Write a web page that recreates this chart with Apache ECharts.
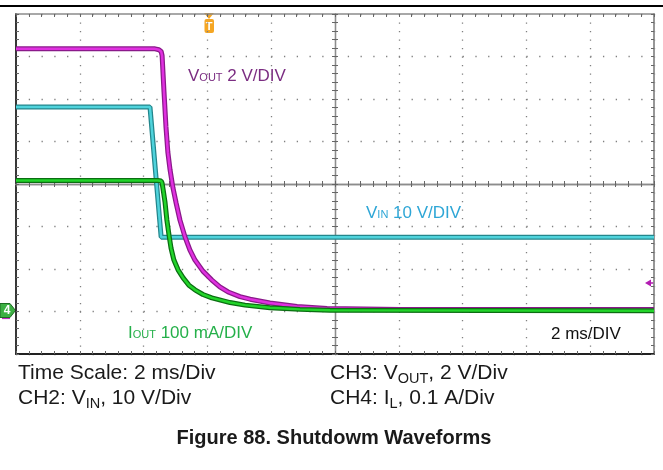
<!DOCTYPE html>
<html>
<head>
<meta charset="utf-8">
<script src="https://cdn.jsdelivr.net/npm/echarts@6/dist/echarts.min.js"></script>
<style>
  html, body { margin: 0; padding: 0; background: #fff; }
  #chart { width: 663px; height: 470px; }
</style>
</head>
<body>
<div id="chart"></div>
<script>
// scope screen: time in ms from screen centre (2 ms/div), level in divisions
var voutTime = [-10, -5.64, -5.52, -5.45, -5.42, -5.36, -5.30, -5.24, -5.17, -5.08, -4.98, -4.86, -4.70, -4.55, -4.39, -4.14, -3.86, -3.61, -3.35, -2.98, -2.66, -2.04, -1.19, -0.25, 2.04, 10];
var voutLevel = [3.18, 3.18, 3.16, 3.12, 3.02, 2.16, 1.36, 0.75, 0.33, -0.09, -0.45, -0.85, -1.25, -1.55, -1.79, -2.05, -2.26, -2.42, -2.54, -2.65, -2.71, -2.80, -2.88, -2.93, -2.95, -2.95];

var vinTime = [-10, -5.80, -5.77, -5.45, 10];
var vinLevel = [1.81, 1.81, 1.79, -1.25, -1.25];

var ioutTime = [-10, -5.55, -5.45, -5.42, -5.39, -5.33, -5.27, -5.20, -5.14, -5.05, -4.92, -4.76, -4.58, -4.39, -4.14, -3.86, -3.29, -2.82, -2.04, -1.10, -0.16, 10];
var ioutLevel = [0.08, 0.08, 0.07, 0.02, -0.12, -0.42, -0.85, -1.22, -1.51, -1.79, -2.02, -2.21, -2.38, -2.49, -2.60, -2.68, -2.79, -2.85, -2.91, -2.95, -2.97, -2.98];

var font = 'Liberation Sans, Arial, sans-serif';

function pairs(t, v) {
  return t.map(function (x, i) { return [x, v[i]]; });
}

// one axis of the graticule; the centre ones sit on zero, the others on the border
function axis(dim, position, onZero, inside, lineColor, lineWidth, split) {
  var a = {
    type: 'value',
    position: position,
    min: dim == 'x' ? -10 : -4,
    max: dim == 'x' ? 10 : 4,
    interval: dim == 'x' ? 2 : 1,
    axisLine: {
      show: true,
      onZero: onZero,
      lineStyle: { color: lineColor, width: lineWidth }
    },
    axisTick: { show: true, inside: inside, length: 3, lineStyle: { color: '#666' } },
    minorTick: { show: true, splitNumber: 5, length: 3, lineStyle: { color: '#666' } },
    axisLabel: { show: false },
    splitLine: { show: false }
  };
  if (onZero) a.axisLine.onZeroAxisIndex = 0;
  if (split) {
    a.splitLine = {
      show: true,
      lineStyle: {
        color: '#808080',
        width: 1.3,
        type: dim == 'x' ? [1.3, 7.2] : [1.3, 11.46]
      }
    };
  }
  return a;
}

function trace(name, data, edge, core) {
  return [{
    name: name,
    type: 'line',
    data: data,
    showSymbol: false,
    symbol: 'none',
    lineStyle: { color: edge, width: 5 }
  }, {
    name: name,
    type: 'line',
    data: data,
    showSymbol: false,
    symbol: 'none',
    lineStyle: { color: core, width: 2.5 }
  }];
}

function label(x, y, text, rich, color, size) {
  return {
    type: 'text',
    x: x,
    y: y,
    style: {
      text: text,
      fontFamily: font,
      fontSize: size,
      fill: color,
      verticalAlign: 'middle',
      rich: rich
    }
  };
}

// small caps for the scope labels, subscripts for the caption
function scopeRich(color) {
  return {
    v: { fontFamily: font, fontSize: 17, lineHeight: 20, fill: color },
    s: { fontFamily: font, fontSize: 11, height: 16, verticalAlign: 'bottom', fill: color }
  };
}
var capRich = {
  v: { fontFamily: font, fontSize: 21, lineHeight: 25, fill: '#1a1a1a' },
  s: { fontFamily: font, fontSize: 14.5, height: 14, verticalAlign: 'bottom', fill: '#1a1a1a' }
};

var chart = echarts.init(document.getElementById('chart'), null, { renderer: 'canvas' });

var series = [].concat(
  trace('VIN', pairs(vinTime, vinLevel), '#23868c', '#4fd3dc'),
  trace('VOUT', pairs(voutTime, voutLevel), '#8a1a8a', '#e030e0'),
  trace('IOUT', pairs(ioutTime, ioutLevel), '#0b6e12', '#22d42a')
);

var option = {
  animation: false,
  backgroundColor: '#fff',
  grid: { left: 16, top: 14, right: 9, bottom: 116, show: false },
  xAxis: [
    axis('x', 'bottom', true, true, '#8c8c8c', 1.3, true),
    axis('x', 'bottom', true, false, '#8c8c8c', 1.3, false),
    axis('x', 'top', false, true, '#8c8c8c', 1.5, false),
    axis('x', 'bottom', false, true, '#222', 1.8, false)
  ],
  yAxis: [
    axis('y', 'left', true, true, '#8c8c8c', 1.3, true),
    axis('y', 'left', true, false, '#8c8c8c', 1.3, false),
    axis('y', 'left', false, true, '#222', 1.8, false),
    axis('y', 'right', false, true, '#8c8c8c', 1.8, false)
  ],
  series: series,
  graphic: {
    elements: [
      // rule above the screenshot
      { type: 'line', shape: { x1: 0, y1: 6, x2: 663, y2: 6 }, style: { stroke: '#000', lineWidth: 2 } },
      // trigger marker
      { type: 'polygon', shape: { points: [[204, 13], [214, 13], [209, 19]] }, style: { fill: '#f5a623' } },
      { type: 'rect', shape: { x: 204.5, y: 19, width: 9.5, height: 14, r: 2 }, style: { fill: '#f5a623' } },
      { type: 'text', x: 209.2, y: 26.5, style: { text: 'T', fontFamily: font, fontSize: 11, fontWeight: 'bold', fill: '#fff', align: 'center', verticalAlign: 'middle' } },
      // channel 4 ground marker
      { type: 'line', shape: { x1: 2, y1: 318.5, x2: 10, y2: 318.5 }, style: { stroke: '#c030c0', lineWidth: 1.2 } },
      { type: 'polygon', shape: { points: [[0, 303.5], [10, 303.5], [15.5, 310.5], [10, 317.5], [0, 317.5]] }, style: { fill: '#3cb043', stroke: '#1d6b22', lineWidth: 1 } },
      { type: 'text', x: 7, y: 311, style: { text: '4', fontFamily: font, fontSize: 12, fontWeight: 'bold', fill: '#fff', align: 'center', verticalAlign: 'middle' } },
      // channel 3 level arrow on the right edge
      { type: 'polygon', shape: { points: [[645, 283], [651, 279.5], [651, 286.5]] }, style: { fill: '#b21cb2' } },
      { type: 'line', shape: { x1: 650, y1: 283, x2: 654, y2: 283 }, style: { stroke: '#b21cb2', lineWidth: 1.5 } },
      // in-screen labels
      label(188, 76, '{v|V}{s|OUT}{v| 2 V/DIV}', scopeRich('#7b2d82'), '#7b2d82', 17),
      label(366, 213, '{v|V}{s|IN}{v| 10 V/DIV}', scopeRich('#2ea6d6'), '#2ea6d6', 17),
      label(128, 333, '{v|I}{s|OUT}{v| 100 mA/DIV}', scopeRich('#25b04a'), '#25b04a', 17),
      label(551, 334, '{v|2 ms/DIV}', scopeRich('#111'), '#111', 17),
      // caption
      label(18, 373, '{v|Time Scale: 2 ms/Div}', capRich, '#1a1a1a', 21),
      label(330, 373, '{v|CH3: V}{s|OUT}{v|, 2 V/Div}', capRich, '#1a1a1a', 21),
      label(18, 398, '{v|CH2: V}{s|IN}{v|, 10 V/Div}', capRich, '#1a1a1a', 21),
      label(330, 398, '{v|CH4: I}{s|L}{v|, 0.1 A/Div}', capRich, '#1a1a1a', 21),
      {
        type: 'text',
        x: 334,
        y: 438,
        style: {
          text: 'Figure 88. Shutdowm Waveforms',
          fontFamily: font,
          fontSize: 20,
          fontWeight: 'bold',
          fill: '#1a1a1a',
          align: 'center',
          verticalAlign: 'middle'
        }
      }
    ]
  }
};

chart.setOption(option);
</script>
</body>
</html>
